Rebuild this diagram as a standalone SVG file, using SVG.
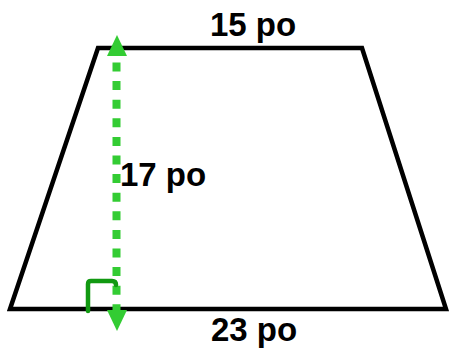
<svg xmlns="http://www.w3.org/2000/svg" width="449" height="356" viewBox="0 0 449 356">
<style>
.lbl{font-family:"Liberation Sans",Arial,sans-serif;font-weight:bold;font-size:33px;fill:#000}
</style>
<rect width="449" height="356" fill="#fff"/>
<g id="trapezoid">
<polygon points="98,48 362,48 446,309 10,309" fill="none" stroke="#000" stroke-width="4.5" stroke-linejoin="miter"/>
</g>
<g id="connectors">
<line x1="116.5" y1="57" x2="116.5" y2="310" stroke="#33cc33" stroke-width="8" stroke-dasharray="9 9.6" stroke-dashoffset="-5.5"/>
<polygon points="117,35 107,56 127,56" fill="#33cc33"/>
<polygon points="117,331 107,310 127,310" fill="#33cc33"/>
<path d="M88,311 V284 Q88,281 91,281 H112 Q116,281 116,285" fill="none" stroke="#119911" stroke-width="4.5" stroke-linecap="round"/>
</g>
<g id="labels">
<text class="lbl" x="210" y="36">15 po</text>
<text class="lbl" x="120" y="186">17 po</text>
<text class="lbl" x="211" y="341">23 po</text>
</g>
</svg>
